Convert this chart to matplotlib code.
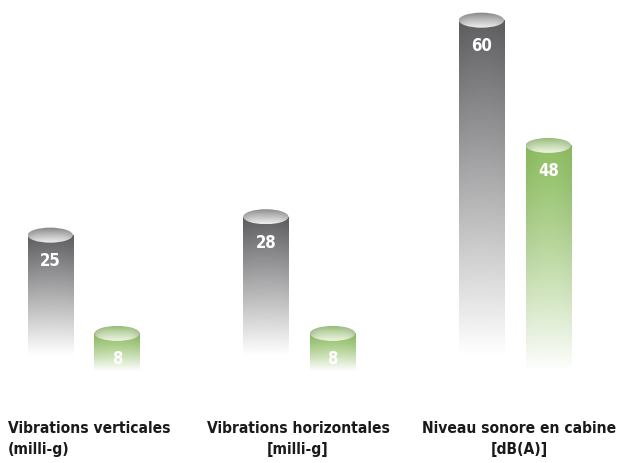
"""
Cylindres : vibrations et niveau sonore
"""
import numpy as np
import matplotlib.pyplot as plt
from matplotlib.patches import Ellipse
from matplotlib.colors import to_rgb

NARROW = ['Liberation Sans Narrow', 'DejaVu Sans']

# données
categories = ['Vibrations verticales\n(milli-g)',
              'Vibrations horizontales\n[milli-g]',
              'Niveau sonore en cabine\n[dB(A)]']
gray_values = [25, 28, 60]
green_values = [8, 8, 48]

# couleurs
GRAY_TOP = '#606063'
GREEN_TOP = '#90c064'
GRAY_CAP = ('#7c7c7e', '#eeeeee')
GREEN_CAP = ('#8bb46c', '#eef5e2')

fig = plt.figure(figsize=(6.19, 4.64), dpi=100)
ax = fig.add_axes([0, 0, 1, 1])
ax2 = ax.twinx()


def body_image(top, v, fade_at, power, n=200, m=40):
    # dégradé vertical vers le blanc (blanc atteint à fade_at) + léger ombrage
    f = np.linspace(0, 1, n)[:, None]
    t = np.clip(f * v / (v - fade_at), 0, 1) ** power
    xs = np.linspace(-1, 1, m)[None, :]
    shade = (1 - 0.05 * xs ** 2)[..., None]
    c = np.array(to_rgb(top))[None, None, :] * shade
    img = 1 - (1 - c) * (1 - t[..., None])
    return np.clip(img, 0, 1)


def cap_image(c_top, c_bot, n=60, m=60):
    t = np.linspace(0, 1, n)[:, None] ** 0.8
    a, b = np.array(to_rgb(c_top)), np.array(to_rgb(c_bot))
    img = a[None, None, :] + (b - a)[None, None, :] * t[..., None]
    xs = np.linspace(-1, 1, m)[None, :]
    shade = 1 - 0.12 * xs ** 4
    img = np.broadcast_to(img, (n, m, 3)) * shade[..., None]
    return np.clip(img, 0, 1)


def cylinders(a, xs, values, width, top, cap, fade_at, power, cap_px, px_per_unit):
    bars = a.bar(xs, values, width, color='none', linewidth=0)
    cap_h = cap_px / px_per_unit
    for bar, x, v in zip(bars, xs, values):
        img = body_image(top, v, fade_at, power)
        im = a.imshow(img, extent=(x - width / 2, x + width / 2, 0, v),
                      aspect='auto', origin='upper', zorder=2)
        im.set_clip_path(bar)
        ell = Ellipse((x, v), width, cap_h, facecolor='none', edgecolor='none')
        a.add_patch(ell)
        cim = a.imshow(cap_image(*cap),
                       extent=(x - width / 2, x + width / 2, v - cap_h / 2, v + cap_h / 2),
                       aspect='auto', origin='upper', zorder=3)
        cim.set_clip_path(ell)
        a.annotate(str(v), (x, v), xytext=(0, -25), textcoords='offset pixels',
                   ha='center', va='center', color='white', fontsize=12,
                   fontweight='bold', family=NARROW, fontstretch='condensed',
                   zorder=4)


idx = np.arange(len(categories))
off = 0.155
w = 0.21

cylinders(ax, idx - off, gray_values, w, GRAY_TOP, GRAY_CAP, 5.5, 1.0, 15, 6.14)
cylinders(ax2, idx + off, green_values, w, GREEN_TOP, GREEN_CAP, 0.0, 1.25, 15, 4.7)

for a in (ax, ax2):
    a.set_xlim(-0.388, 2.483)
    a.axis('off')
ax.set_ylim(-12.1, 63.45)
ax2.set_ylim(-19.57, 79.15)

# libellés des catégories
label_x = [8 / 619, 298 / 619, 519 / 619]
label_ha = ['left', 'center', 'center']
for lab, x, ha in zip(categories, label_x, label_ha):
    fig.text(x, 1 - 421 / 464, lab, ha=ha, va='top', multialignment=ha,
             fontsize=11.2, fontweight='bold', family=NARROW,
             fontstretch='condensed', color='#1a1a1a', linespacing=1.5)

plt.savefig('out.png', dpi=100, facecolor='white')
